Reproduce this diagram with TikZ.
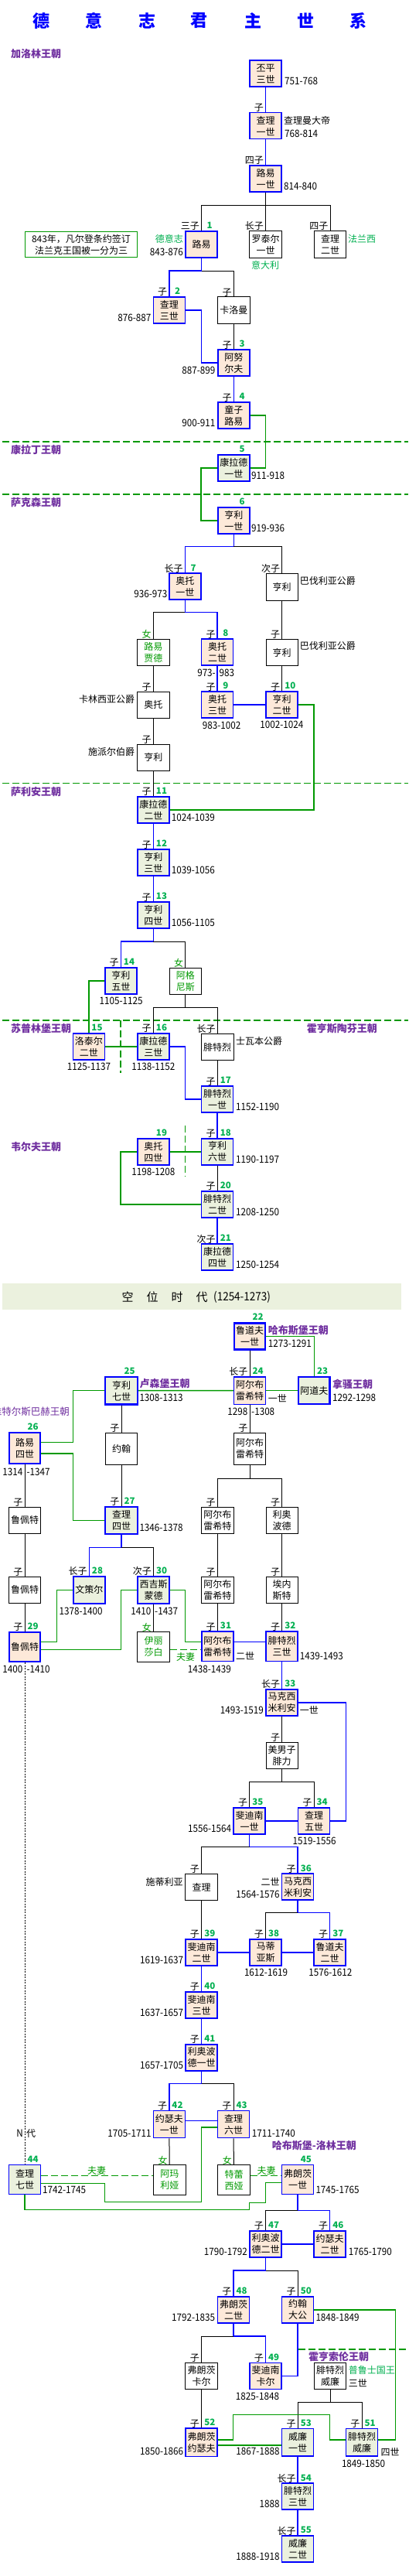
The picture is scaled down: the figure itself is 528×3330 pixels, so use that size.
\documentclass[tikz,border=0pt]{standalone}
\usepackage{fontspec}
\setmainfont{Noto Sans CJK SC}
\newfontfamily\datef{Noto Sans CJK SC}[FakeStretch=0.9]
\usetikzlibrary{calc}
\definecolor{kpink}{HTML}{FDE9D9}
\definecolor{kgreen}{HTML}{EBF1DE}
\definecolor{gline}{HTML}{009900}
\definecolor{ngreen}{HTML}{00B050}
\definecolor{dpurple}{HTML}{7030A0}
\definecolor{kblue}{HTML}{0000FF}
\newcommand\bx{\fontsize{12}{15}\selectfont}
\tikzset{
 kb/.style={draw=kblue, line width=1.5pt, minimum width=41pt, minimum height=34pt, inner sep=0pt, align=center, font=\bx},
 pk/.style={kb, fill=kpink},
 gk/.style={kb, fill=kgreen},
 thk/.style={line width=2.4pt, minimum width=40.5pt},
 pb/.style={draw=black, line width=0.8pt, fill=white, minimum width=41.5pt, minimum height=34.5pt, inner sep=0pt, align=center, font=\bx},
 gt/.style={text=gline},
 bl/.style={draw=kblue, line width=1.5pt},
 kin/.style={draw=black, line width=1pt},
 gl/.style={draw=gline, line width=1.5pt},
 gd/.style={draw=gline, line width=1.5pt, dash pattern=on 9pt off 4pt},
 rel/.style={anchor=base east, inner sep=0pt, font=\fontsize{12}{12}\selectfont},
 num/.style={anchor=base, inner sep=0pt, text=ngreen, font=\bfseries\fontsize{11.5}{12}\selectfont},
 dt/.style={inner sep=0pt, font=\datef\fontsize{13}{13}\selectfont},
 nm/.style={inner sep=0pt, font=\fontsize{12}{12}\selectfont},
 dyn/.style={inner sep=0pt, text=dpurple, font=\bfseries\fontsize{13}{13}\selectfont},
 ttl/.style={inner sep=0pt, text=kblue, font=\bfseries\fontsize{22}{22}\selectfont},
}
\newcommand\rl[3]{%
 \node[rel] at ([xshift=-2.5pt,yshift=1.2pt]#1.north) {#2};%
 \node[num] at ([xshift=10.7pt,yshift=2.4pt]#1.north) {#3};}
\begin{document}
\begin{tikzpicture}[x=1pt,y=-1pt]
\useasboundingbox (0,0) rectangle (528,3330);
\fill[white] (0,0) rectangle (528,3330);
% title
\foreach \x/\c in {53/德,121/意,190/志,257/君,327/主,395/世,463/系} \node[ttl] at (\x,27) {\c};
% dashed dynasty separators
\draw[gd] (3,571) -- (528,571);
\draw[gd] (3,639) -- (528,639);
\draw[gd] (3,1012.7) -- (528,1012.7);
\draw[gd] (3,1319) -- (528,1319);
\draw[gd] (156,1319) -- (156,1386.7);
\draw[gd] (239.3,1455) -- (239.3,1520.7);
\draw[gd] (385.7,3037) -- (528,3037);
% interregnum band
\fill[kgreen] (3,1659) rectangle (519.3,1693.3);
\foreach \x/\c in {165/空,197/位,229/时,261/代} \node[inner sep=0pt,font=\fontsize{15}{15}\selectfont] at (\x,1676.5) {\c};
\node[dt,anchor=west,font=\datef\fontsize{15}{15}\selectfont] at (276,1676.5) {(1254-1273)};
% dynasty labels
\node[dyn,anchor=west] at (14,70) {加洛林王朝};
\node[dyn,anchor=west] at (14,581.7) {康拉丁王朝};
\node[dyn,anchor=west] at (14,649.3) {萨克森王朝};
\node[dyn,anchor=west] at (14,1023.3) {萨利安王朝};
\node[dyn,anchor=west] at (14,1329.3) {苏普林堡王朝};
\node[dyn,anchor=west] at (396.7,1329.3) {霍亨斯陶芬王朝};
\node[dyn,anchor=west] at (14,1482.3) {韦尔夫王朝};
\node[dyn,anchor=west] at (346.7,1720) {哈布斯堡王朝};
\node[dyn,anchor=west] at (430,1789) {拿骚王朝};
\node[dyn,anchor=west] at (180.3,1789) {卢森堡王朝};
\node[dyn,anchor=east,font=\fontsize{12.5}{13}\selectfont] at (90,1825) {维特尔斯巴赫王朝};
\node[dyn,anchor=west] at (351.7,2773.3) {哈布斯堡-洛林王朝};
\node[dyn,anchor=west] at (399,3046.7) {霍亨索伦王朝};
% note
\node[draw=gline, line width=0.9pt, minimum width=145pt, minimum height=33pt, align=center, inner sep=0pt, font=\fontsize{12}{15}\selectfont] (note) at (105,316.3) {843年，凡尔登条约签订\\法兰克王国被一分为三};
% ---------------- boxes
\node[pk] (n1a) at (343.5,95) {丕平\\三世};
\node[pk] (n1b) at (343.5,162.7) {查理\\一世};
\node[pk] (n1c) at (343.5,230.8) {路易\\一世};
\node[pk] (k1) at (260.5,315.8) {路易};
\node[pb] (lot) at (343.5,315.8) {罗泰尔\\一世};
\node[pb] (cha2) at (427,315.8) {查理\\二世};
\node[pk] (k2) at (218.8,400.8) {查理\\三世};
\node[pb] (karl) at (302.3,401) {卡洛曼};
\node[pk] (k3) at (302.3,469) {阿努\\尔夫};
\node[pk] (k4) at (302.3,537) {童子\\路易};
\node[gk] (k5) at (302.3,604.8) {康拉德\\一世};
\node[pk] (k6) at (302.3,673) {亨利\\一世};
\node[pk] (k7) at (239.3,758.2) {奥托\\一世};
\node[pb] (bav1) at (364.7,758.7) {亨利};
\node[pb,gt] (luj) at (198.3,843.3) {路易\\贾德};
\node[pk] (k8) at (281.2,843) {奥托\\二世};
\node[pb] (bav2) at (364.7,843.5) {亨利};
\node[pk] (k9) at (281.2,911) {奥托\\三世};
\node[pk] (k10) at (364.7,911) {亨利\\二世};
\node[pb] (car) at (198.3,911.3) {奥托};
\node[pb] (spe) at (198.3,979.3) {亨利};
\node[gk] (k11) at (198.3,1046.8) {康拉德\\二世};
\node[gk] (k12) at (198.3,1115) {亨利\\三世};
\node[gk] (k13) at (198.3,1183) {亨利\\四世};
\node[gk] (k14) at (156.3,1267.8) {亨利\\五世};
\node[pb,gt] (agn) at (239.8,1268.3) {阿格\\尼斯};
\node[pk] (k15) at (114.8,1352.8) {洛泰尔\\二世};
\node[gk] (k16) at (198.3,1352.8) {康拉德\\三世};
\node[pb] (swa) at (281.2,1353.5) {腓特烈};
\node[gk] (k17) at (281.2,1421) {腓特烈\\一世};
\node[gk] (k18) at (281.2,1488.8) {亨利\\六世};
\node[pk] (k19) at (198.3,1488.8) {奥托\\四世};
\node[gk] (k20) at (281.2,1556.8) {腓特烈\\二世};
\node[gk] (k21) at (281.2,1625) {康拉德\\四世};
\node[pk,thk] (k22) at (323,1727.3) {鲁道夫\\一世};
\node[gk,thk,minimum height=34.6pt] (k23) at (406.3,1797.5) {阿道夫};
\node[pk,minimum height=35.5pt] (k24) at (323,1797.5) {阿尔布\\雷希特};
\node[gk,thk,minimum width=41.6pt,minimum height=35.6pt] (k25) at (157,1797.7) {亨利\\七世};
\node[pk,thk,minimum width=40.3pt,minimum height=40.3pt] (k26) at (32,1872) {路易\\四世};
\node[pb,minimum height=40.8pt] (joh) at (157,1872.5) {约翰};
\node[pb,minimum height=40.8pt] (alb) at (323,1872.5) {阿尔布\\雷希特};
\node[gk,thk,minimum width=41.6pt,minimum height=35pt] (k27) at (157,1965.3) {查理\\四世};
\node[pb] (rup1) at (32,1965.3) {鲁佩特};
\node[pb] (alb2) at (281.3,1965.3) {阿尔布\\雷希特};
\node[pb] (leo) at (364.7,1965.3) {利奥\\波德};
\node[pb] (rup2) at (32,2055.3) {鲁佩特};
\node[gk,thk,minimum width=41pt,minimum height=35pt] (k28) at (115.3,2055.3) {文策尔};
\node[gk,thk,minimum width=41.2pt,minimum height=35pt] (k30) at (198.5,2055.3) {西吉斯\\蒙德};
\node[pb] (alb3) at (281.3,2055.3) {阿尔布\\雷希特};
\node[pb] (ern) at (364.7,2055.3) {埃内\\斯特};
\node[pk,thk,minimum width=40.3pt,minimum height=37.6pt] (k29) at (32,2129) {鲁佩特};
\node[pb,gt,minimum height=38.2pt] (eli) at (198.5,2128.8) {伊丽\\莎白};
\node[pk,minimum height=38.5pt] (k31) at (281.3,2128.3) {阿尔布\\雷希特};
\node[pk,minimum height=38.5pt] (k32) at (364.7,2128.3) {腓特烈\\三世};
\node[pk] (k33) at (364.7,2200.8) {马克西\\米利安};
\node[pb] (phi) at (364.7,2269.5) {美男子\\腓力};
\node[pk] (k35) at (322.7,2353.8) {斐迪南\\一世};
\node[pk] (k34) at (406,2353.8) {查理\\五世};
\node[pb] (tyr) at (260.6,2439.5) {查理};
\node[pk] (k36) at (385.2,2439.2) {马克西\\米利安};
\node[pk] (k39) at (260.6,2523.8) {斐迪南\\二世};
\node[pk] (k38) at (343.5,2523.8) {马蒂\\亚斯};
\node[pk] (k37) at (426.7,2523.8) {鲁道夫\\二世};
\node[pk] (k40) at (260.6,2591.8) {斐迪南\\三世};
\node[pk] (k41) at (260.6,2659.8) {利奥波\\德一世};
\node[pk,minimum height=35pt] (k42) at (218.8,2746) {约瑟夫\\一世};
\node[pk,minimum height=35pt] (k43) at (302,2746) {查理\\六世};
\node[gk,minimum height=38pt] (k44) at (32,2817.5) {查理\\七世};
\node[pb,gt,minimum height=38.6pt] (ama) at (219.3,2818) {阿玛\\利娅};
\node[pb,gt,minimum height=38.6pt] (ter) at (302.5,2818) {特蕾\\西娅};
\node[pk,minimum height=38pt] (k45) at (385.2,2817.5) {弗朗茨\\一世};
\node[pk] (k47) at (343.5,2900.8) {利奥波\\德二世};
\node[pk] (k46) at (426.7,2900.8) {约瑟夫\\二世};
\node[pk] (k48) at (302,2985.8) {弗朗茨\\二世};
\node[pk] (k50) at (385.2,2985.8) {约翰\\大公};
\node[pb] (fk) at (260.6,3071.3) {弗朗茨\\卡尔};
\node[pk] (k49) at (343.5,3071.3) {斐迪南\\卡尔};
\node[pb] (fw3) at (427,3071.3) {腓特烈\\威廉};
\node[pk,minimum height=36.2pt] (k52) at (260.6,3157.2) {弗朗茨\\约瑟夫};
\node[gk,minimum height=35.8pt] (k53) at (385.2,3157.3) {威廉\\一世};
\node[gk,minimum height=35.8pt] (k51) at (468,3157.3) {腓特烈\\威廉};
\node[gk] (k54) at (385.2,3227.2) {腓特烈\\三世};
\node[gk] (k55) at (385.2,3295) {威廉\\二世};
% ---------------- connectors
\draw[bl] (n1a) -- (n1b);
\draw[bl] (n1b) -- (n1c);
\draw[kin] (n1c) -- (343.5,265.7) -| (k1);
\draw[kin] (343.5,265.7) -| (cha2);
\draw[kin] (343.5,265.7) -- (lot);
\draw[bl] (k1) -- (260.5,350) -| (k2);
\draw[kin] (260.5,350) -| (karl);
\draw[bl] (k2.east) -- (260.7,400.8) |- (k3.west);
\draw[kin] (karl) -- (k3);
\draw[bl] (k3) -- (k4);
\draw[gl] (k4.east) -- (343.3,537) |- (k5.east);
\draw[gl] (k5.west) -- (260.2,604.8) |- (k6.west);
\draw[bl] (k6) -- (302.3,706.7) -| (k7);
\draw[kin] (302.3,706.7) -| (bav1);
\draw[kin] (bav1) -- (bav2);
\draw[kin] (bav2) -- (k10);
\draw[bl] (k7) -- (239.3,791.7) -| (k8);
\draw[kin] (239.3,791.7) -| (luj);
\draw[bl] (k8) -- (k9);
\draw[bl] (k9) -- (k10);
\draw[kin] (luj) -- (car);
\draw[kin] (car) -- (spe);
\draw[kin] (spe) -- (k11);
\draw[gl] (k10.east) -- (406,911) |- (k11.east);
\draw[bl] (k11) -- (k12);
\draw[bl] (k12) -- (k13);
\draw[bl] (k13) -- (198.3,1217) -| (k14);
\draw[kin] (198.3,1217) -| (agn);
\draw[gl] (k14.west) -| (k15);
\draw[kin] (agn) -- (239.8,1302.3) -| (k16);
\draw[kin] (239.8,1302.3) -| (swa);
\draw[gl] (k15) -- (k16);
\draw[bl] (k16.east) -- (239.3,1352.8) |- (k17.west);
\draw[kin] (swa) -- (k17);
\draw[bl] (k17) -- (k18);
\draw[gl] (k19) -- (k18);
\draw[gl] (k19.west) -- (156,1488.8) |- (k20.west);
\draw[kin] (k18) -- (k20);
\draw[bl] (k20) -- (k21);
\draw[gl] (k22.east) -| (k23);
\draw[kin] (k22) -- (k24);
\draw[gl] (k24) -- (k23);
\draw[gl] (k25) -- (k24);
\draw[gl] (k25.west) -- (94.3,1797.7) |- ([yshift=7.7pt]k26.east);
\draw[gl] ([yshift=-7pt]k26.east) -- (94.3,1879) |- (k27.west);
\draw[kin] (k26) -- (rup1);
\draw[kin] (rup1) -- (rup2);
\draw[kin] (rup2) -- (k29);
\draw[kin] (k25) -- (joh);
\draw[kin] (joh) -- (k27);
\draw[kin] (k24) -- (alb);
\draw[kin] (alb) -- (323,1911) -| (alb2);
\draw[kin] (323,1911) -| (leo);
\draw[kin] (alb2) -- (alb3);
\draw[kin] (alb3) -- (k31);
\draw[kin] (leo) -- (ern);
\draw[kin] (ern) -- (k32);
\draw[bl] (k27) -- (157,2000.7) -| (k28);
\draw[kin] (157,2000.7) -| (k30);
\draw[gl] (k28.west) -- (73.3,2055.3) |- ([yshift=6.7pt]k29.east);
\draw[gl] (k30.west) -- (156.7,2055.3) |- ([yshift=-3.3pt]k29.east);
\draw[gl] (k30.east) -- (239.3,2055.3) |- ([yshift=6pt]k31.west);
\draw[kin] (k30) -- (eli);
\draw[gd] ([yshift=-3.5pt]eli.east) -- ([yshift=-4pt]k31.west);
\draw[bl] ([yshift=6pt]k31.east) -- ([yshift=6pt]k32.west);
\draw[bl] (k32) -- (k33);
\draw[bl] (k33.east) -- (447.3,2200.8) |- (k34.east);
\draw[kin] (k33) -- (phi);
\draw[kin] (phi) -- (364.7,2303.3) -| (k35);
\draw[kin] (364.7,2303.3) -| (k34);
\draw[bl] (k35) -- (k34);
\draw[bl] (k35) -- (322.7,2387.7) -| (k36);
\draw[kin] (322.7,2387.7) -| (tyr);
\draw[bl] (k36) -- (385.2,2472.7) -| (k37);
\draw[kin] (385.2,2472.7) -| (k38);
\draw[kin] (tyr) -- (k39);
\draw[bl] (k39) -- (k38);
\draw[bl] (k38) -- (k37);
\draw[bl] (k39) -- (k40);
\draw[bl] (k40) -- (k41);
\draw[bl] (k41) -- (260.6,2693.7) -| (k42);
\draw[kin] (260.6,2693.7) -| (k43);
\draw[bl] ([yshift=4.3pt]k42.east) -- ([yshift=4.3pt]k43.west);
\draw[gl] ([yshift=-4pt]k43.west) -- (260.3,2750) -- (260.3,2846.7) -- (135.7,2846.7) -- (135.7,2822.3) -- ([yshift=-4.8pt]k44.east);
\draw[kin] (k42) -- (ama);
\draw[kin] (k43) -- (ter);
\draw[gd] ([yshift=4.8pt]k44.east) -- ([yshift=5.3pt]ama.west);
\draw[gd] ([yshift=5.3pt]ter.east) -- ([yshift=4.8pt]k45.west);
\draw[gl] (k44.south) -- (32,2856.7) -- (322.7,2856.7) -- (322.7,2847.7) -- (343.3,2847.7) -- (343.3,2821.7) -- ([yshift=-4.2pt]k45.west);
\draw[bl] (k45) -- (385.2,2857.3) -| (k46);
\draw[kin] (385.2,2857.3) -| (k47);
\draw[bl] (k47) -- (k46);
\draw[bl] (k47) -- (343.5,2935) -| (k48);
\draw[kin] (343.5,2935) -| (k50);
\draw[gl] (k50.east) -- (511.7,2985.8) |- ([yshift=3.3pt]k51.east);
\draw[bl] (k48) -- (302,3020) -| (k49);
\draw[kin] (302,3020) -| (fk);
\draw[bl] (k50) |- (k49.east);
\draw[kin] (fk) -- (k52);
\draw[kin] (fw3) -- (427,3105) -| (k53);
\draw[kin] (427,3105) -| (k51);
\draw[gl] ([yshift=3.2pt]k52.east) -- (301.7,3154) -- (301.7,3121.7) -- (426.3,3121.7) -- (426.3,3154) -- ([yshift=3.3pt]k51.west);
\draw[gl] ([yshift=-3.8pt]k52.east) -- ([yshift=-3.7pt]k53.west);
\draw[bl] (k53) -- (k54);
\draw[bl] (k54) -- (k55);
\draw[kin, line width=0.6pt, dash pattern=on 2pt off 1.5pt] (k29) -- (k44);
% ---------------- relation labels and numbers
\rl{n1b}{子}{}
\rl{n1c}{四子}{}
\rl{k1}{三子}{1}
\rl{lot}{长子}{}
\rl{cha2}{四子}{}
\rl{k2}{子}{2}
\rl{karl}{子}{}
\rl{k3}{子}{3}
\rl{k4}{子}{4}
\rl{k5}{}{5}
\rl{k6}{}{6}
\rl{k7}{长子}{7}
\rl{bav1}{次子}{}
\rl{luj}{\textcolor{gline}{女}}{}
\rl{k8}{子}{8}
\rl{bav2}{子}{}
\rl{k9}{子}{9}
\rl{k10}{子}{10}
\rl{car}{子}{}
\rl{spe}{子}{}
\rl{k11}{子}{11}
\rl{k12}{子}{12}
\rl{k13}{子}{13}
\rl{k14}{子}{14}
\rl{agn}{\textcolor{gline}{女}}{}
\rl{k15}{}{15}
\rl{k16}{子}{16}
\rl{swa}{长子}{}
\rl{k17}{子}{17}
\rl{k18}{子}{18}
\rl{k19}{}{19}
\rl{k20}{子}{20}
\rl{k21}{次子}{21}
\rl{k22}{}{22}
\rl{k23}{}{23}
\rl{k24}{长子}{24}
\rl{k25}{}{25}
\rl{k26}{}{26}
\rl{joh}{子}{}
\rl{alb}{子}{}
\rl{rup1}{子}{}
\rl{k27}{子}{27}
\rl{alb2}{子}{}
\rl{leo}{子}{}
\rl{rup2}{子}{}
\rl{k28}{长子}{28}
\rl{k30}{次子}{30}
\rl{alb3}{子}{}
\rl{ern}{子}{}
\rl{k29}{子}{29}
\rl{eli}{\textcolor{gline}{女}}{}
\rl{k31}{子}{31}
\rl{k32}{子}{32}
\rl{k33}{长子}{33}
\rl{phi}{子}{}
\rl{k35}{子}{35}
\rl{k34}{子}{34}
\rl{tyr}{子}{}
\rl{k36}{子}{36}
\rl{k39}{子}{39}
\rl{k38}{子}{38}
\rl{k37}{子}{37}
\rl{k40}{子}{40}
\rl{k41}{子}{41}
\rl{k42}{子}{42}
\rl{k43}{子}{43}
\rl{ama}{\textcolor{gline}{女}}{}
\rl{ter}{\textcolor{gline}{女}}{}
\rl{k44}{}{44}
\rl{k45}{}{45}
\rl{k47}{子}{47}
\rl{k46}{子}{46}
\rl{k48}{子}{48}
\rl{k50}{子}{50}
\rl{fk}{子}{}
\rl{k49}{子}{49}
\rl{k52}{子}{52}
\rl{k53}{子}{53}
\rl{k51}{子}{51}
\rl{k54}{长子}{54}
\rl{k55}{长子}{55}
% ---------------- dates and side labels
\node[dt,anchor=west] at (368,105) {751-768};
\node[nm,anchor=west] at (367,156) {查理曼大帝};
\node[dt,anchor=west] at (368,172.7) {768-814};
\node[dt,anchor=west] at (367,240.7) {814-840};
\node[nm,anchor=east,text=ngreen] at (237,309) {德意志};
\node[dt,anchor=east] at (237,325.7) {843-876};
\node[nm,text=ngreen] at (343.2,342.7) {意大利};
\node[nm,anchor=west,text=ngreen] at (450,309) {法兰西};
\node[dt,anchor=east] at (195.5,411) {876-887};
\node[dt,anchor=east] at (278.5,479) {887-899};
\node[dt,anchor=east] at (278.5,546.7) {900-911};
\node[dt,anchor=west] at (325,615) {911-918};
\node[dt,anchor=west] at (325,683) {919-936};
\node[dt,anchor=east] at (216.5,767.7) {936-973};
\node[nm,anchor=west] at (387.7,751) {巴伐利亚公爵};
\node[nm,anchor=west] at (387.7,835) {巴伐利亚公爵};
\node[dt,anchor=east] at (279,870) {973-};
\node[dt,anchor=west] at (283.5,870) {983};
\node[dt] at (286.7,937.7) {983-1002};
\node[dt] at (364.3,936.7) {1002-1024};
\node[nm,anchor=east] at (174.3,904) {卡林西亚公爵};
\node[nm,anchor=east] at (174.3,972.3) {施派尔伯爵};
\node[dt,anchor=west] at (221.7,1056.7) {1024-1039};
\node[dt,anchor=west] at (221.7,1125) {1039-1056};
\node[dt,anchor=west] at (221.7,1193) {1056-1105};
\node[dt] at (156.7,1294) {1105-1125};
\node[dt] at (115,1379) {1125-1137};
\node[dt] at (198.3,1379) {1138-1152};
\node[nm,anchor=west] at (305,1346) {士瓦本公爵};
\node[dt,anchor=west] at (305,1431) {1152-1190};
\node[dt,anchor=west] at (305,1499) {1190-1197};
\node[dt] at (198.3,1515) {1198-1208};
\node[dt,anchor=west] at (305,1566.7) {1208-1250};
\node[dt,anchor=west] at (305,1635) {1250-1254};
\node[dt,anchor=west] at (346.7,1736.7) {1273-1291};
\node[dt,anchor=west] at (430,1806.7) {1292-1298};
\node[nm,anchor=west] at (346.7,1807.3) {一世};
\node[dt,anchor=east] at (320.5,1825) {1298};
\node[dt,anchor=west] at (325,1825) {-1308};
\node[dt,anchor=west] at (180.3,1806.7) {1308-1313};
\node[dt,anchor=east] at (29.5,1902.7) {1314};
\node[dt,anchor=west] at (34.3,1902.7) {-1347};
\node[dt,anchor=west] at (180.3,1975) {1346-1378};
\node[dt] at (104.7,2082.7) {1378-1400};
\node[dt,anchor=east] at (195.5,2082.7) {1410};
\node[dt,anchor=west] at (200,2082.7) {-1437};
\node[dt,anchor=east] at (29.5,2157.7) {1400};
\node[dt,anchor=west] at (34.3,2157.7) {-1410};
\node[nm,text=gline] at (240,2141.7) {夫妻};
\node[nm,anchor=west] at (305,2141) {二世};
\node[dt] at (270.8,2157.7) {1438-1439};
\node[dt,anchor=west] at (387.7,2141) {1439-1493};
\node[dt,anchor=east] at (341,2210.7) {1493-1519};
\node[nm,anchor=west] at (387.7,2210.7) {一世};
\node[dt,anchor=east] at (299.3,2364) {1556-1564};
\node[dt] at (406.7,2380) {1519-1556};
\node[nm,anchor=east] at (236.7,2432.7) {施蒂利亚};
\node[nm,anchor=east] at (361.7,2432.3) {二世};
\node[dt,anchor=east] at (361.7,2449) {1564-1576};
\node[dt,anchor=east] at (237.3,2534) {1619-1637};
\node[dt] at (344,2550) {1612-1619};
\node[dt] at (427.3,2550) {1576-1612};
\node[dt,anchor=east] at (237.3,2602) {1637-1657};
\node[dt,anchor=east] at (237.3,2670) {1657-1705};
\node[dt,anchor=east] at (195.7,2757.7) {1705-1711};
\node[dt,anchor=west] at (325.7,2757.7) {1711-1740};
\node[dt,anchor=east] at (30,2757.7) {N};
\node[nm,anchor=west] at (34,2757.7) {代};
\node[dt,anchor=west] at (55,2831) {1742-1745};
\node[nm,text=gline] at (125,2806) {夫妻};
\node[nm,text=gline] at (344.7,2806) {夫妻};
\node[dt,anchor=west] at (408.3,2831) {1745-1765};
\node[dt,anchor=east] at (320,2911) {1790-1792};
\node[dt,anchor=west] at (450.7,2911) {1765-1790};
\node[dt,anchor=east] at (278.3,2996) {1792-1835};
\node[dt,anchor=west] at (408.3,2996) {1848-1849};
\node[nm,anchor=west,text=ngreen] at (450.7,3064.3) {普鲁士国王};
\node[nm,anchor=west] at (450.7,3081) {三世};
\node[dt] at (333,3097.7) {1825-1848};
\node[dt,anchor=east] at (237.3,3169.3) {1850-1866};
\node[dt,anchor=east] at (361.7,3169.3) {1867-1888};
\node[nm,anchor=west] at (492.3,3170) {四世};
\node[dt] at (470,3185) {1849-1850};
\node[dt,anchor=east] at (361.7,3236.7) {1888};
\node[dt,anchor=east] at (361.7,3305) {1888-1918};
\end{tikzpicture}
\end{document}
